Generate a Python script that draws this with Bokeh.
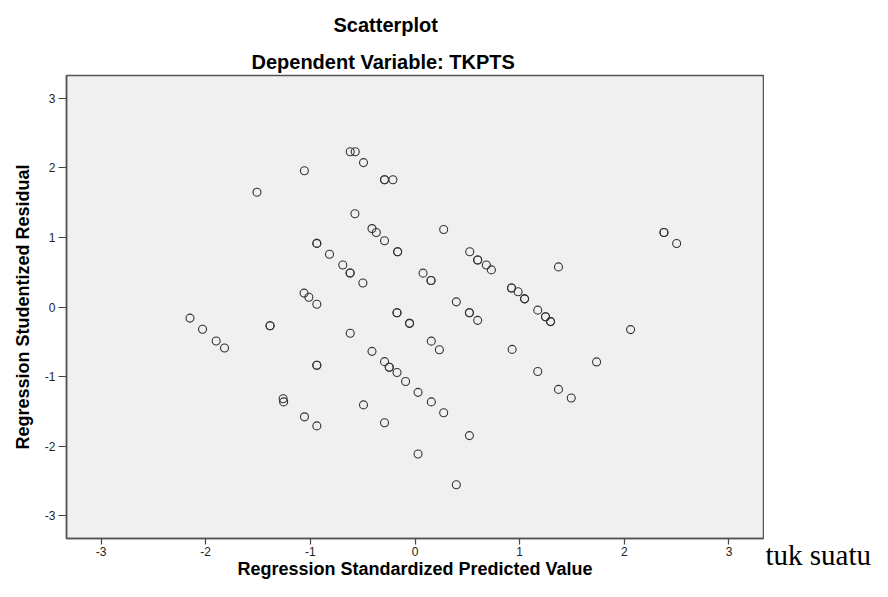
from bokeh.plotting import figure
from bokeh.layouts import row
from bokeh.models import Range1d, FixedTicker, Title, Label, ColumnDataSource
from bokeh.embed import file_html
from bokeh.resources import INLINE

# Regression standardized predicted value (x) and studentized residual (y)
predicted = [
    -2.15, -2.03, -1.90, -1.82, -1.51, -1.385, -1.385, -1.26, -1.255,
    -1.057, -1.06, -1.014, -1.056, -0.938, -0.938, -0.938, -0.938, -0.938, -0.938,
    -0.817, -0.69, -0.62, -0.62, -0.619, -0.571, -0.619, -0.574, -0.492, -0.498,
    -0.492, -0.411, -0.37, -0.411, -0.291, -0.291, -0.211, -0.291, -0.291,
    -0.246, -0.246, -0.291, -0.172, -0.172, -0.166, -0.166, -0.172, -0.09,
    -0.052, -0.052, 0.029, 0.029, 0.077, 0.153, 0.153, 0.156, 0.156, 0.233,
    0.274, 0.274, 0.395, 0.395, 0.52, 0.52, 0.523, 0.52, 0.599, 0.599, 0.599,
    0.682, 0.73, 0.922, 0.922, 0.985, 0.928, 1.047, 1.047, 1.173, 1.173,
    1.247, 1.247, 1.295, 1.295, 1.371, 1.371, 1.493, 1.735, 2.06, 2.379, 2.379, 2.50,
]
residual = [
    -0.16, -0.32, -0.49, -0.59, 1.65, -0.27, -0.27, -1.32, -1.365,
    1.96, 0.20, 0.14, -1.58, 0.915, 0.915, 0.04, -0.838, -0.838, -1.71,
    0.758, 0.605, 0.49, 0.49, 2.233, 2.233, -0.377, 1.342, 2.077, 0.345,
    -1.408, 1.128, 1.071, -0.638, 1.83, 1.83, 1.83, 0.952, -0.786,
    -0.866, -0.866, -1.664, -0.083, -0.083, 0.795, 0.795, -0.943, -1.071,
    -0.235, -0.235, -1.228, -2.115, 0.487, 0.382, 0.382, -0.491, -1.365, -0.615,
    1.114, -1.522, 0.074, -2.557, -0.083, -0.083, 0.795, -1.85, 0.677, 0.677, -0.192,
    0.605, 0.534, 0.273, 0.273, 0.22, -0.61, 0.117, 0.117, -0.045, -0.928,
    -0.14, -0.14, -0.21, -0.21, 0.577, -1.185, -1.31, -0.79, -0.325, 1.071, 1.071, 0.914,
]
tick_values = [-3, -2, -1, 0, 1, 2, 3]
tick_labels = {t: str(t) for t in tick_values}
title_text = "Scatterplot"
subtitle_text = "Dependent Variable: TKPTS"
x_label = "Regression Standardized Predicted Value"
y_label = "Regression Studentized Residual"
side_text = "tuk suatu"

src = ColumnDataSource(data=dict(pred=predicted, resid=residual))

p = figure(
    width=764, height=581,
    output_backend="svg", toolbar_location=None, title=None,
    x_range=Range1d(-3.33, 3.33), y_range=Range1d(-3.33, 3.33),
    min_border_left=66, min_border_right=1, min_border_top=75, min_border_bottom=43,
)
p.background_fill_color = "#f0f0f0"
p.border_fill_color = "white"
p.outline_line_color = "#555555"
p.outline_line_width = 1.5
p.xgrid.visible = False
p.ygrid.visible = False

t2 = Title(text=subtitle_text, align="left", offset=185, text_font="Liberation Sans",
           text_font_size="20px", text_font_style="bold", text_color="black", standoff=5)
p.add_layout(t2, "above")
t1 = Title(text=title_text, align="left", offset=267, text_font="Liberation Sans",
           text_font_size="20px", text_font_style="bold", text_color="black", standoff=22)
p.add_layout(t1, "above")

for ax in (p.xaxis, p.yaxis):
    ax.ticker = FixedTicker(ticks=tick_values)
    ax.major_label_overrides = tick_labels
    ax.axis_line_color = "#555555"
    ax.axis_line_width = 1.5
    ax.major_tick_line_color = "#444444"
    ax.major_tick_line_width = 1.2
    ax.major_tick_in = 0
    ax.minor_tick_in = 0
    ax.minor_tick_out = 0
    ax.major_label_text_font = "Liberation Sans"
    ax.major_label_text_font_size = "12px"
    ax.major_label_text_color = "#222222"
    ax.axis_label_text_font = "Liberation Sans"
    ax.axis_label_text_font_size = "18px"
    ax.axis_label_text_font_style = "bold"
    ax.axis_label_text_color = "black"

p.xaxis.axis_label = x_label
p.yaxis.axis_label = y_label
p.xaxis.major_tick_out = 6
p.yaxis.major_tick_out = 8
p.xaxis.major_label_standoff = 2
p.yaxis.major_label_standoff = 3
p.xaxis.axis_label_standoff = 0
p.yaxis.axis_label_standoff = 9

p.scatter(x="pred", y="resid", source=src, marker="circle", size=8,
          fill_alpha=0, line_color="#333333", line_width=1.1)

# stray document text to the right of the chart, drawn in a narrow blank figure;
# the label sits in a side panel so it is not clipped to that figure's frame
side_fig = figure(width=108, height=581, output_backend="svg", toolbar_location=None,
                  title=None, x_axis_type=None, y_axis_type=None,
                  x_range=Range1d(0, 1), y_range=Range1d(0, 1),
                  min_border_left=0, min_border_right=0, min_border_top=0, min_border_bottom=0)
side_fig.outline_line_color = None
side_fig.background_fill_color = "white"
side_fig.border_fill_color = "white"
side_fig.xgrid.visible = False
side_fig.ygrid.visible = False
side = Label(x=1, y=554, x_units="canvas", y_units="canvas", text=side_text,
             text_font="Liberation Serif", text_font_size="29px",
             text_baseline="alphabetic", text_align="left", text_color="black")
side_fig.add_layout(side, "below")

layout = row(p, side_fig)
open("out.html", "w").write(file_html(layout, INLINE))
